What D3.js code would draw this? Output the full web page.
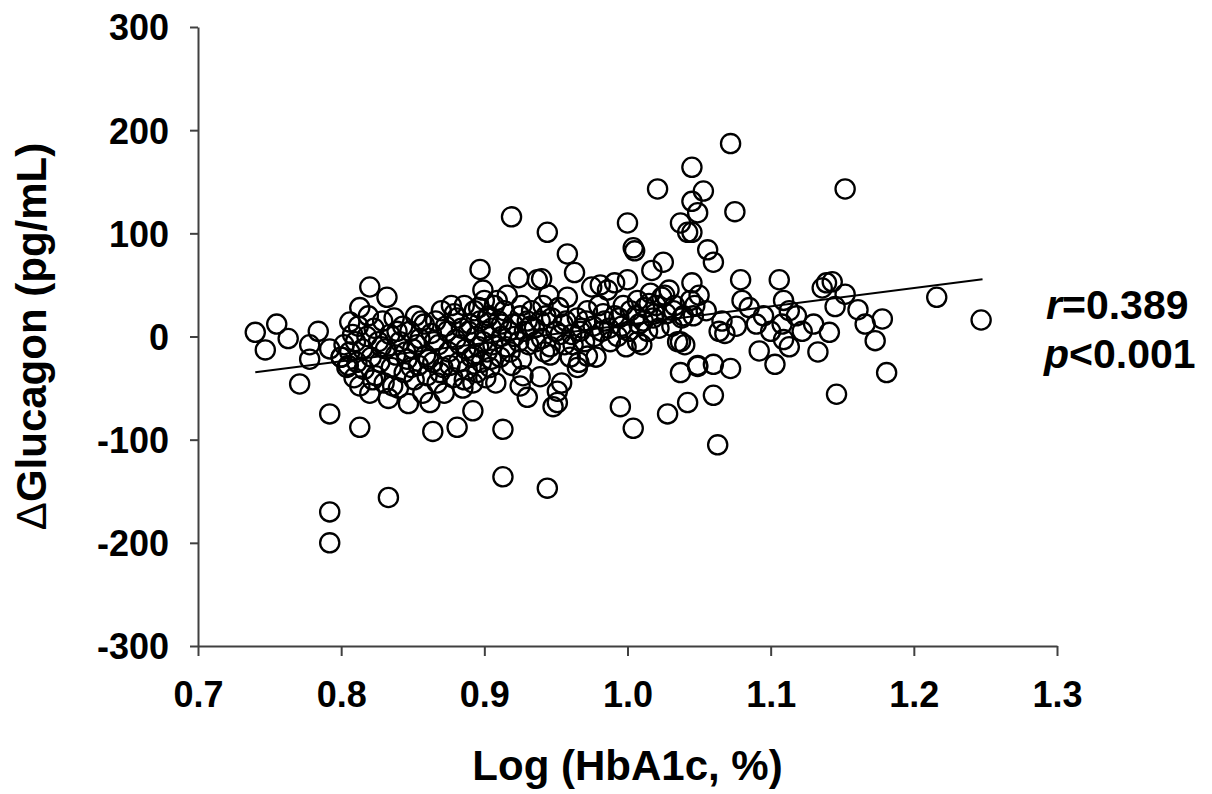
<!DOCTYPE html>
<html>
<head>
<meta charset="utf-8">
<script src="https://cdn.jsdelivr.net/npm/d3@7"></script>
<style>
  body { margin: 0; background: #fff; }
  svg text { font-family: "Liberation Sans", Arial, sans-serif; font-weight: bold; fill: #000; }
</style>
</head>
<body>
<svg id="chart" width="1212" height="794"></svg>
<script>
// x = Log(HbA1c, %), y = delta glucagon (pg/mL)
const xTicks = [0.7, 0.8, 0.9, 1.0, 1.1, 1.2, 1.3];
const yTicks = [-300, -200, -100, 0, 100, 200, 300];

// regression line end points
const fitX = [0.740, 1.248];
const fitY = [-34.7, 55.4];

const stats = { r: "0.389", p: "0.001" };

// scattered points
const logHbA1c = [
  0.740, 0.747, 0.755, 0.763, 0.771, 0.784, 0.778, 0.778, 0.792, 0.792, 0.792, 0.792, 0.806, 0.813, 0.813, 0.820, 0.832, 0.833, 0.800, 0.805, 0.810,
  0.800, 0.802, 0.804, 0.806, 0.808, 0.809, 0.811, 0.812, 0.813, 0.815, 0.816, 0.818, 0.819, 0.820, 0.821, 0.823, 0.824, 0.826, 0.827, 0.829,
  0.830, 0.831, 0.833, 0.834, 0.835, 0.837, 0.838, 0.840, 0.841, 0.843, 0.844, 0.846, 0.847, 0.848, 0.850, 0.851, 0.852, 0.854, 0.855, 0.857,
  0.858, 0.859, 0.860, 0.864, 0.862, 0.863,
  0.864, 0.866, 0.867, 0.868, 0.870, 0.871, 0.872, 0.874, 0.875, 0.877, 0.878, 0.881, 0.880, 0.881, 0.882, 0.884, 0.885, 0.886, 0.887, 0.888,
  0.892, 0.890, 0.891, 0.892, 0.893, 0.894, 0.895, 0.896, 0.897, 0.897, 0.898, 0.899, 0.900, 0.900, 0.901, 0.902, 0.903, 0.904, 0.905, 0.906,
  0.907, 0.908, 0.910, 0.911, 0.912, 0.913, 0.913, 0.914, 0.915, 0.916, 0.917, 0.919, 0.919, 0.920, 0.924, 0.925, 0.924, 0.925, 0.926, 0.927,
  0.928, 0.930, 0.930,
  0.931, 0.933, 0.935, 0.937, 0.939, 0.939, 0.940, 0.941, 0.942, 0.944, 0.944, 0.945, 0.946, 0.947, 0.948, 0.951, 0.951, 0.950, 0.940, 0.952,
  0.954, 0.955, 0.956, 0.958, 0.958, 0.960, 0.961, 0.963, 0.965, 0.965, 0.966, 0.968, 0.970, 0.972, 0.972, 0.975, 0.976, 0.978, 0.980, 0.981,
  0.982, 0.984, 0.986, 0.988, 0.991, 0.991, 0.993, 0.995, 0.996, 1.000, 0.999, 1.000, 1.002,
  1.004, 1.005, 1.004, 1.007, 1.007, 1.008, 1.010, 1.012, 1.014, 1.016, 1.017, 1.018, 1.020, 1.021, 1.022, 1.024, 1.025, 1.027, 1.028, 1.029,
  1.031, 1.033, 1.035, 1.037, 1.037, 1.038, 1.040, 1.042, 1.045, 1.045, 1.044, 1.045, 1.045, 1.046, 1.049, 1.049, 1.050, 1.049, 1.053, 1.055,
  1.056, 1.060, 1.060, 1.060, 1.063, 1.064, 1.066, 1.068, 1.072, 1.072, 1.075, 1.076, 1.079, 1.080, 1.042, 1.037,
  1.085, 1.090, 1.092, 1.095, 1.100, 1.103, 1.106, 1.108, 1.109, 1.109, 1.113, 1.113, 1.118, 1.122, 1.130, 1.133, 1.136, 1.139, 1.143, 1.145,
  1.146, 1.152, 1.152, 1.161, 1.166, 1.173, 1.141, 1.178, 1.181, 1.216, 1.247,
  0.822, 0.828, 0.836, 0.839, 0.845, 0.849, 0.853, 0.856, 0.861, 0.865, 0.869, 0.873, 0.876, 0.879, 0.883, 0.886, 0.889, 0.893, 0.896, 0.899,
  0.902, 0.905, 0.909, 0.912, 0.918, 0.921, 0.926, 0.932, 0.936, 0.943, 0.946, 0.953, 0.957, 0.962, 0.967, 0.971, 0.977, 0.983, 0.987, 0.994,
  0.997, 1.001, 1.006, 1.011, 1.015, 1.019, 1.026, 1.032, 1.039, 1.047
];
const deltaGlucagon = [
  4, -13, 12, -2, -46, 5, -8, -22, -75, -170, -200, -12, 14, -88, 28, 48, 38, -156, -20, -28, -5,
  -20, -8, -30, -15, 2, -40, -25, 10, -48, -12, -32, 0, 20, -55, -20, 8, -38, -5, -25, 15,
  -45, -12, -60, 2, -30, 18, -18, -50, -5, 10, -35, -22, -65, 5, -12, -42, 20, -28, -2, -55,
  12, -18, -38, -92, -64, 3,
  -25, 15, -45, -8, 25, -30, -55, 5, -15, 30, -40, -88, -3, 18, -25, 8, -50, 30, -12, -32,
  -72, 12, -20, -45, 25, 0, -35, -10, 65, 15, -25, 45, 35, 5, -40, -15, 20, -30, 8, -8,
  30, -45, 15, -20, 0, -90, -136, 25, -10, 40, 5, 116, -28, 12, 57, -48, -5, 20, 30, -38,
  5, -59, 15,
  -8, 25, 8, 55, -39, 15, 56, 30, -15, 101, -147, 40, -10, 18, -68, -53, -64, 5, -2, 28,
  -45, 12, -8, 80, 38, -20, 2, 62, -30, 18, -25, 8, -5, -19, 25, 48, 10, -20, 30, 50,
  5, 15, 45, -5, 52, 20, 0, -68, 10, 110, -10, 55, 25,
  86, 83, -89, 35, -5, 12, -8, 28, 5, 42, 64, 18, 30, 143, 8, 38, 72, 22, -75, 45,
  10, 30, -5, 110, -5, 18, -8, 101, 52, 164, 35, 131, 101, 20, -29, 120, 40, -28, 141, 25,
  84, 72, -57, -27, -105, 5, 15, 3, 187, -31, 121, 10, 55, 35, -64, -35,
  28, 12, -14, 20, 5, -27, 55, 12, 35, -3, -10, 25, 20, 5, 12, -15, 47, 52, 53, 29,
  -56, 143, 41, 26, 12, -4, 4, 17, -35, 38, 16,
  -42, -10, -48, 5, -15, -30, -8, 15, -22, -5, -35, 10, -28, 22, -8, -42, 5, -18, 28, -5,
  18, -22, 35, 12, -15, 0, -22, 10, -5, 20, -18, 2, 15, -8, 5, 15, 0, 22, 8, 18,
  30, 5, 20, 15, 32, 22, 40, 25, 20, 30
];
const points = logHbA1c.map((x, i) => ({ x: x, y: deltaGlucagon[i] }));

const svg = d3.select("#chart");
const margin = { top: 27, right: 155, bottom: 148, left: 198 };
const width = 1212 - margin.left - margin.right;
const height = 794 - margin.top - margin.bottom;

const g = svg.append("g").attr("transform", `translate(${margin.left},${margin.top})`);

const xScale = d3.scaleLinear().domain([0.7, 1.3]).range([0, width]);
const yScale = d3.scaleLinear().domain([-300, 300]).range([height, 0]);

const axisColor = "#404040";

// x axis
const xAxis = g.append("g")
  .attr("transform", `translate(0,${height})`)
  .call(d3.axisBottom(xScale).tickValues(xTicks).tickFormat(d3.format(".1f")).tickSize(10).tickSizeOuter(0));
xAxis.select(".domain").attr("stroke", axisColor).attr("stroke-width", 2);
xAxis.selectAll(".tick line").attr("stroke", axisColor).attr("stroke-width", 2);
xAxis.selectAll(".tick text")
  .attr("y", 0).attr("dy", 0)
  .attr("transform", "translate(0,61)")
  .style("font-size", "36px")
  .attr("font-family", null);

// y axis (plain hyphen for the minus sign, as in the original)
const yAxis = g.append("g")
  .call(d3.axisLeft(yScale).tickValues(yTicks).tickFormat((d) => String(d)).tickSize(8).tickSizeOuter(0));
yAxis.select(".domain").attr("stroke", axisColor).attr("stroke-width", 2);
yAxis.selectAll(".tick line").attr("stroke", axisColor).attr("stroke-width", 2);
yAxis.selectAll(".tick text")
  .attr("x", -29).attr("dy", "0.36em")
  .style("font-size", "36px")
  .attr("font-family", null);

// points
g.append("g")
  .selectAll("circle")
  .data(points)
  .join("circle")
  .attr("cx", (d) => xScale(d.x))
  .attr("cy", (d) => yScale(d.y))
  .attr("r", 9.6)
  .attr("fill", "none")
  .attr("stroke", "#000")
  .attr("stroke-width", 2.3);

// regression line
const fit = fitX.map((x, i) => ({ x: x, y: fitY[i] }));
g.append("path")
  .datum(fit)
  .attr("fill", "none")
  .attr("stroke", "#000")
  .attr("stroke-width", 2)
  .attr("d", d3.line().x((d) => xScale(d.x)).y((d) => yScale(d.y)));

// axis titles
svg.append("text")
  .attr("x", margin.left + width / 2)
  .attr("y", 780)
  .attr("text-anchor", "middle")
  .style("font-size", "42px")
  .text("Log (HbA1c, %)");

const yTitle = svg.append("text")
  .attr("transform", `translate(46,${margin.top + yScale(0)}) rotate(-90)`)
  .attr("text-anchor", "middle")
  .style("font-size", "42px");
yTitle.append("tspan").style("font-weight", "normal").text("\u0394");
yTitle.append("tspan").text("Glucagon (pg/mL)");

// r and p
const rText = svg.append("text").attr("x", 1046).attr("y", 319).style("font-size", "41px");
rText.append("tspan").style("font-style", "italic").text("r");
rText.append("tspan").text("=" + stats.r);

const pText = svg.append("text").attr("x", 1044).attr("y", 368).style("font-size", "41px");
pText.append("tspan").style("font-style", "italic").text("p");
pText.append("tspan").text("<" + stats.p);
</script>
</body>
</html>
